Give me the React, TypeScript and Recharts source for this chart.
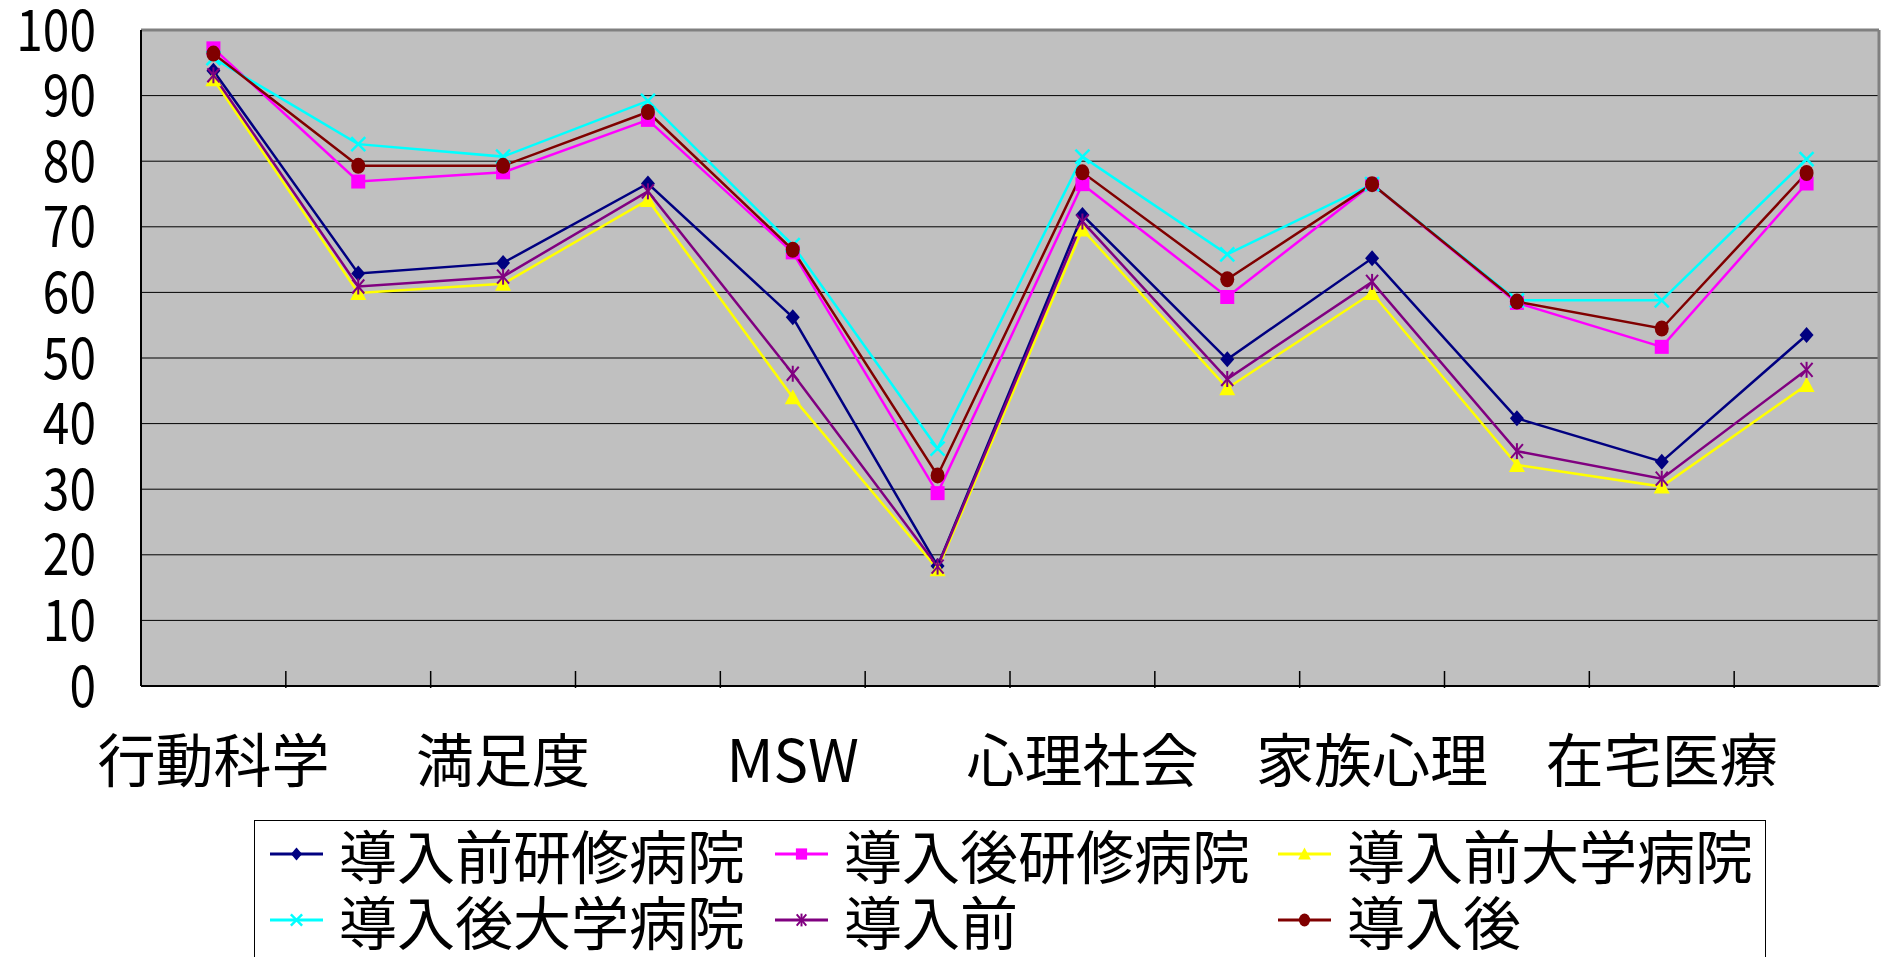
import React from "react";
import { LineChart, Line, XAxis, YAxis, CartesianGrid, Legend, ReferenceLine } from "recharts";

// categories: only every other one carries a printed label in the source
const categories = ["行動科学", "", "満足度", "", "MSW", "", "心理社会", "", "家族心理", "", "在宅医療", ""];

const preTraining = [93.8, 62.9, 64.5, 76.6, 56.2, 18.3, 71.8, 49.8, 65.2, 40.8, 34.2, 53.5];
const postTraining = [97.2, 76.9, 78.3, 86.3, 66.1, 29.4, 76.5, 59.3, 76.5, 58.4, 51.7, 76.6];
const preUniversity = [92.5, 59.9, 61.3, 74.1, 44.0, 17.8, 69.6, 45.4, 59.9, 33.7, 30.4, 45.9];
const postUniversity = [95.7, 82.6, 80.7, 89.2, 67.2, 36.2, 80.7, 65.8, 76.5, 58.8, 58.8, 80.3];
const preAll = [93.1, 60.9, 62.4, 75.4, 47.6, 18.2, 70.8, 46.8, 61.6, 35.8, 31.6, 48.2];
const postAll = [96.4, 79.3, 79.3, 87.5, 66.5, 32.1, 78.3, 62.0, 76.5, 58.6, 54.5, 78.2];

const yTicks = [0, 10, 20, 30, 40, 50, 60, 70, 80, 90, 100];

type Shape = "diamond" | "square" | "triangle" | "x" | "star" | "circle";

const series: { key: string; name: string; values: number[]; color: string; shape: Shape }[] = [
  { key: "s1", name: "導入前研修病院", values: preTraining, color: "#000080", shape: "diamond" },
  { key: "s2", name: "導入後研修病院", values: postTraining, color: "#FF00FF", shape: "square" },
  { key: "s3", name: "導入前大学病院", values: preUniversity, color: "#FFFF00", shape: "triangle" },
  { key: "s4", name: "導入後大学病院", values: postUniversity, color: "#00FFFF", shape: "x" },
  { key: "s5", name: "導入前", values: preAll, color: "#800080", shape: "star" },
  { key: "s6", name: "導入後", values: postAll, color: "#800000", shape: "circle" },
];

const data = categories.map((cat, i) => {
  const row: Record<string, string | number> = { cat };
  series.forEach((s) => (row[s.key] = s.values[i]));
  return row;
});

const FONT = "'Noto Sans CJK JP', sans-serif";
const PLOT_LEFT = 141;
const PLOT_RIGHT = 1879;
const STEP = (PLOT_RIGHT - PLOT_LEFT) / categories.length;

function Marker({ shape, cx, cy, color, s = 1 }: { shape: Shape; cx: number; cy: number; color: string; s?: number }) {
  switch (shape) {
    case "diamond":
      return <polygon points={`${cx},${cy - 8 * s} ${cx + 7 * s},${cy} ${cx},${cy + 8 * s} ${cx - 7 * s},${cy}`} fill={color} />;
    case "square":
      return <rect x={cx - 7 * s} y={cy - 7 * s} width={14 * s} height={14 * s} fill={color} />;
    case "triangle":
      return <polygon points={`${cx},${cy - 8 * s} ${cx + 8 * s},${cy + 7 * s} ${cx - 8 * s},${cy + 7 * s}`} fill={color} />;
    case "x":
      return (
        <g stroke={color} strokeWidth={2.5}>
          <line x1={cx - 7 * s} y1={cy - 7 * s} x2={cx + 7 * s} y2={cy + 7 * s} />
          <line x1={cx - 7 * s} y1={cy + 7 * s} x2={cx + 7 * s} y2={cy - 7 * s} />
        </g>
      );
    case "star":
      return (
        <g stroke={color} strokeWidth={2}>
          <line x1={cx - 6 * s} y1={cy - 7 * s} x2={cx + 6 * s} y2={cy + 7 * s} />
          <line x1={cx - 6 * s} y1={cy + 7 * s} x2={cx + 6 * s} y2={cy - 7 * s} />
          <line x1={cx} y1={cy - 8 * s} x2={cx} y2={cy + 8 * s} />
        </g>
      );
    default:
      return <ellipse cx={cx} cy={cy} rx={7 * s} ry={8 * s} fill={color} />;
  }
}

const XTick = (props: any) => {
  const { x, y, index } = props;
  const label = categories[index];
  const edge = x - STEP / 2;
  return (
    <g>
      {index > 0 && <line x1={edge} y1={y} x2={edge} y2={y - 17} stroke="#000" strokeWidth={1.5} />}
      {label && (
        <text x={x} y={y + 94} textAnchor="middle" fontSize={58} fontFamily={FONT} fill="#000">
          {label}
        </text>
      )}
    </g>
  );
};

const YTick = (props: any) => {
  const { x, y, payload } = props;
  return (
    <text
      transform={`translate(${x},${y}) scale(0.84,1)`}
      textAnchor="end"
      dy="0.36em"
      fontSize={57}
      fontFamily={FONT}
      fill="#000"
    >
      {payload.value}
    </text>
  );
};

const LegendBox = () => (
  <div
    style={{
      border: "1.5px solid #000",
      background: "#fff",
      boxSizing: "border-box",
      width: "100%",
      height: "100%",
      display: "grid",
      gridTemplateColumns: "505px 503px 490px",
      gridAutoRows: "66px",
      alignContent: "start",
      paddingLeft: 15,
      fontFamily: FONT,
      fontSize: 58,
      lineHeight: "66px",
      color: "#000",
    }}
  >
    {series.map((s) => (
      <div key={s.key} style={{ display: "flex", alignItems: "center", height: 66, whiteSpace: "nowrap" }}>
        <svg width={53} height={30} style={{ marginRight: 16, flex: "none" }}>
          <line x1={0} y1={15} x2={53} y2={15} stroke={s.color} strokeWidth={3} />
          <Marker shape={s.shape} cx={26.5} cy={15} color={s.color} s={0.8} />
        </svg>
        <span>{s.name}</span>
      </div>
    ))}
  </div>
);

export default function App() {
  return (
    <div style={{ position: "absolute", left: 0, top: 0, width: 1885, height: 957, overflow: "hidden", background: "#fff" }}>
      <LineChart width={1885} height={957} data={data} margin={{ top: 30, right: 0, left: 0, bottom: 151 }}>
        <CartesianGrid vertical={false} stroke="#000" fill="#C0C0C0" />
        <XAxis
          dataKey="cat"
          interval={0}
          padding={{ left: STEP / 2, right: STEP / 2 }}
          height={120}
          tickSize={0}
          tickLine={false}
          axisLine={{ stroke: "#000", strokeWidth: 2 }}
          tick={XTick}
        />
        <YAxis
          domain={[0, 100]}
          ticks={yTicks}
          interval={0}
          width={141}
          tickSize={0}
          tickMargin={45}
          tickLine={false}
          axisLine={{ stroke: "#000", strokeWidth: 2 }}
          tick={YTick}
        />
        <YAxis
          yAxisId="r"
          orientation="right"
          domain={[0, 100]}
          width={6}
          tick={false}
          tickLine={false}
          axisLine={{ stroke: "#808080", strokeWidth: 3 }}
        />
        <ReferenceLine y={100} stroke="#808080" strokeWidth={3} />
        {series.map((s) => (
          <Line
            key={s.key}
            dataKey={s.key}
            name={s.name}
            stroke={s.color}
            strokeWidth={2.5}
            isAnimationActive={false}
            dot={(p: any) => <Marker key={`${s.key}-${p.index}`} shape={s.shape} cx={p.cx} cy={p.cy} color={s.color} />}
            activeDot={false}
          />
        ))}
        <Legend
          layout="horizontal"
          verticalAlign="middle"
          align="center"
          wrapperStyle={{ left: 254, top: 820, width: 1512, height: 170 }}
          content={() => <LegendBox />}
        />
      </LineChart>
    </div>
  );
}
